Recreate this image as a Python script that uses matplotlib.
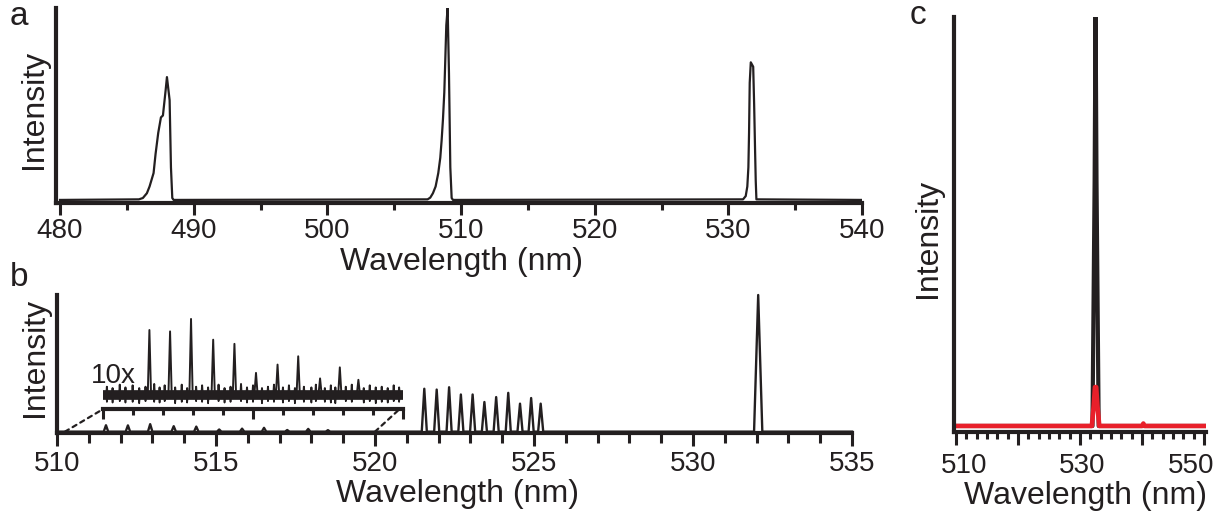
import numpy as np
import matplotlib.pyplot as plt
from matplotlib.patches import ConnectionPatch
from matplotlib.ticker import MultipleLocator, AutoMinorLocator, NullFormatter

plt.rcParams['font.family'] = ['Liberation Sans', 'DejaVu Sans']

INK = '#231f20'
RED = '#e8202a'
W, H = 1222, 514

# panel a: spectrum (nm, normalised intensity)
a_wl = [480.0, 485.9, 486.2, 486.5, 486.7, 487.0, 487.15, 487.35, 487.55, 487.7, 487.9, 488.0,
        488.2, 488.3, 488.4, 488.5,
        507.5, 507.7, 507.9, 508.1, 508.3, 508.45, 508.55, 508.65, 508.75, 508.82, 508.9, 509.0,
        509.1, 509.2, 509.3, 509.4,
        531.1, 531.3, 531.42, 531.5, 531.55, 531.6, 531.68, 531.86, 531.93, 532.0, 532.05, 532.1,
        540.0]
a_int = [0, 0.003, 0.01, 0.035, 0.07, 0.14, 0.24, 0.35, 0.43, 0.44, 0.57, 0.64,
         0.52, 0.17, 0.01, 0,
         0.003, 0.012, 0.035, 0.07, 0.14, 0.22, 0.31, 0.42, 0.56, 0.72, 0.91, 1.0,
         0.66, 0.17, 0.01, 0,
         0.003, 0.02, 0.07, 0.17, 0.35, 0.61, 0.717, 0.694, 0.5, 0.26, 0.1, 0.003,
         0]

# panel b: peaks (nm, intensity relative to the lasing line)
side_wl = [511.54, 512.23, 512.93, 513.67, 514.38, 515.10, 515.82, 516.51, 517.24, 517.90, 518.52]
side_int = [0.047, 0.046, 0.055, 0.040, 0.037, 0.016, 0.022, 0.028, 0.012, 0.020, 0.011]
comb_wl = [521.55, 521.94, 522.33, 522.70, 523.07, 523.44, 523.81, 524.19, 524.56, 524.91, 525.21]
comb_int = [0.314, 0.308, 0.325, 0.272, 0.272, 0.217, 0.253, 0.284, 0.205, 0.246, 0.205]
lase_wl = [532.05]
lase_int = [1.0]

# noise spikes riding on the 10x inset trace (nm, inset units, up and down)
noise_wl = [510.12, 510.31, 510.55, 510.74, 510.98, 511.2, 511.41, 511.7, 511.88, 512.05, 512.4,
            512.62, 512.8, 513.1, 513.3, 513.5, 513.85, 514.05, 514.25, 514.6, 514.8, 515.0,
            515.3, 515.5, 515.7, 516.0, 516.2, 516.4, 516.7, 516.95, 517.1, 517.4, 517.6,
            517.75, 518.1, 518.3, 518.7, 518.9, 519.1, 519.3, 519.5, 519.7, 519.88]
noise_up = [0.06, 0.05, 0.075, 0.055, 0.07, 0.05, 0.06, 0.08, 0.055, 0.07, 0.055,
            0.075, 0.05, 0.06, 0.07, 0.055, 0.075, 0.05, 0.06, 0.08, 0.055, 0.07,
            0.05, 0.06, 0.075, 0.055, 0.07, 0.05, 0.06, 0.055, 0.075, 0.05, 0.07,
            0.055, 0.06, 0.075, 0.05, 0.07, 0.055, 0.06, 0.05, 0.07, 0.055]
noise_dn = [0.05, 0.055, 0.045, 0.055, 0.05, 0.06, 0.045, 0.05, 0.055, 0.045, 0.06,
            0.05, 0.055, 0.045, 0.05, 0.06, 0.045, 0.055, 0.05, 0.045, 0.055, 0.05,
            0.06, 0.045, 0.05, 0.055, 0.045, 0.06, 0.05, 0.055, 0.045, 0.05, 0.055,
            0.06, 0.045, 0.05, 0.055, 0.045, 0.06, 0.05, 0.055, 0.045, 0.05]

# panel c: above threshold (black) and below threshold (red)
c_wl_black = [510.0, 532.0, 532.35, 532.5, 532.65, 533.0, 550.3]
c_int_black = [0, 0, 0.6, 1.02, 0.6, 0, 0]
c_wl_red = [510.0, 531.9, 532.2, 532.4, 532.6, 532.8, 533.1, 540.0, 540.2, 540.4, 550.3]
c_int_red = [0, 0, 0.05, 0.095, 0.095, 0.05, 0, 0, 0.006, 0, 0]
c_ticklabels = ['510', '530', '550']


def spikes(peaks, lo, hi):
    # peaks: (centre, height, half width) -> triangle outline on a flat baseline
    x, y = [lo], [0]
    for c, h, hw in sorted(peaks):
        x += [c - hw, c, c + hw]
        y += [0, h, 0]
    x.append(hi)
    y.append(0)
    return x, y


def box(l, t, r, b):
    return [l / W, 1 - b / H, (r - l) / W, (b - t) / H]


def px(x, y):
    return x / W, 1 - y / H


def style(ax, major, minor, pad):
    for s in ['top', 'right']:
        ax.spines[s].set_visible(False)
    for s in ['left', 'bottom']:
        ax.spines[s].set_linewidth(3)
        ax.spines[s].set_color(INK)
    ax.set_yticks([])
    ax.tick_params(axis='x', which='major', direction='out', length=major, width=2.2,
                   color=INK, labelsize=20, pad=pad, labelcolor=INK)
    ax.tick_params(axis='x', which='minor', direction='out', length=minor, width=2.2, color=INK)


fig = plt.figure(figsize=(W / 100, H / 100), dpi=100)

# ---- a
axa = fig.add_axes(box(56, 8, 862, 203))
axa.plot(a_wl, a_int, color=INK, lw=1.6)
axa.set_xlim(479.7, 540)
axa.set_ylim(-0.016, 1.0)
axa.xaxis.set_major_locator(MultipleLocator(10))
axa.xaxis.set_minor_locator(MultipleLocator(5))
style(axa, 8.4, 5.3, 2.5)

# ---- b
axb = fig.add_axes(box(57, 295, 852, 433.3))
bx, by = spikes([(c, h, 0.07) for c, h in zip(side_wl, side_int)]
                + [(c, h, 0.08) for c, h in zip(comb_wl, comb_int)]
                + [(c, h, 0.13) for c, h in zip(lase_wl, lase_int)], 510, 535)
axb.plot(bx, by, color=INK, lw=1.7, clip_on=False)
axb.set_xlim(510, 535)
axb.set_ylim(-0.012, 1.0)
axb.xaxis.set_major_locator(MultipleLocator(5))
axb.xaxis.set_minor_locator(MultipleLocator(1))
style(axb, 9.6, 7.2, 3.2)

# ---- b inset (10x)
ilo = -0.101
axi = fig.add_axes(box(103.3, 317, 402.7, 409))
axi.patch.set_alpha(0)
ix, iy = spikes([(c, 10 * h, 0.055) for c, h in zip(side_wl, side_int)]
                + [(c, h, 0.022) for c, h in zip(noise_wl, noise_up)], 510, 520)
nx, ny = spikes([(c, -h, 0.025) for c, h in zip(noise_wl, noise_dn)], 510, 520)
axi.plot([510, 520], [0, 0], color=INK, lw=7, solid_capstyle='round')
axi.plot(nx, ny, color=INK, lw=1.2)
axi.plot(ix, iy, color=INK, lw=1.4)
axi.set_xlim(510, 520)
axi.set_ylim(ilo, 0.564)
axi.xaxis.set_major_locator(MultipleLocator(5))
axi.xaxis.set_minor_locator(MultipleLocator(1))
style(axi, 7, 4, 1)
axi.spines['left'].set_visible(False)
axi.xaxis.set_major_formatter(NullFormatter())
fig.text(*px(91, 383), '10x', fontsize=20, ha='left', va='baseline', color=INK)

for xa, xb in [(510.25, 510), (520.0, 519.9)]:
    con = ConnectionPatch(xyA=(xa, 0), coordsA=axb.transData, xyB=(xb, ilo),
                          coordsB=axi.transData, linestyle=(0, (2, 2)), lw=1.6, color=INK)
    fig.add_artist(con)

# ---- c
axc = fig.add_axes(box(953.5, 17, 1206, 431.7))
axc.plot(c_wl_black, c_int_black, color=INK, lw=3)
axc.plot(c_wl_red, c_int_red, color=RED, lw=3.3)
axc.set_xlim(509.6, 550.3)
axc.set_ylim(-0.014, 1.0)
axc.xaxis.set_major_locator(MultipleLocator(10))
axc.xaxis.set_minor_locator(AutoMinorLocator(6))
style(axc, 9.6, 4.8, 3.8)
axc.xaxis.set_major_formatter(NullFormatter())
# tick labels in the original sit a little off their ticks
for t, x in zip(c_ticklabels, [964, 1081.7, 1190.7]):
    fig.text(*px(x, 473), t, fontsize=20, ha='center', va='baseline', color=INK)

# ---- labels
for x, y in [(461, 270), (458, 501.7), (1085, 504)]:
    fig.text(*px(x, y), 'Wavelength (nm)', fontsize=23, ha='center', va='baseline', color=INK)
for x, y in [(34, 109), (35, 357.5), (927.5, 238)]:
    fig.text(*px(x, y), 'Intensity', fontsize=23, rotation=90, ha='center', va='center', color=INK)
for t, x, y in [('a', 19, 25), ('b', 19, 286), ('c', 917.5, 24)]:
    fig.text(*px(x, y), t, fontsize=24, ha='center', va='baseline', color=INK)

fig.savefig('out.png', dpi=100)
